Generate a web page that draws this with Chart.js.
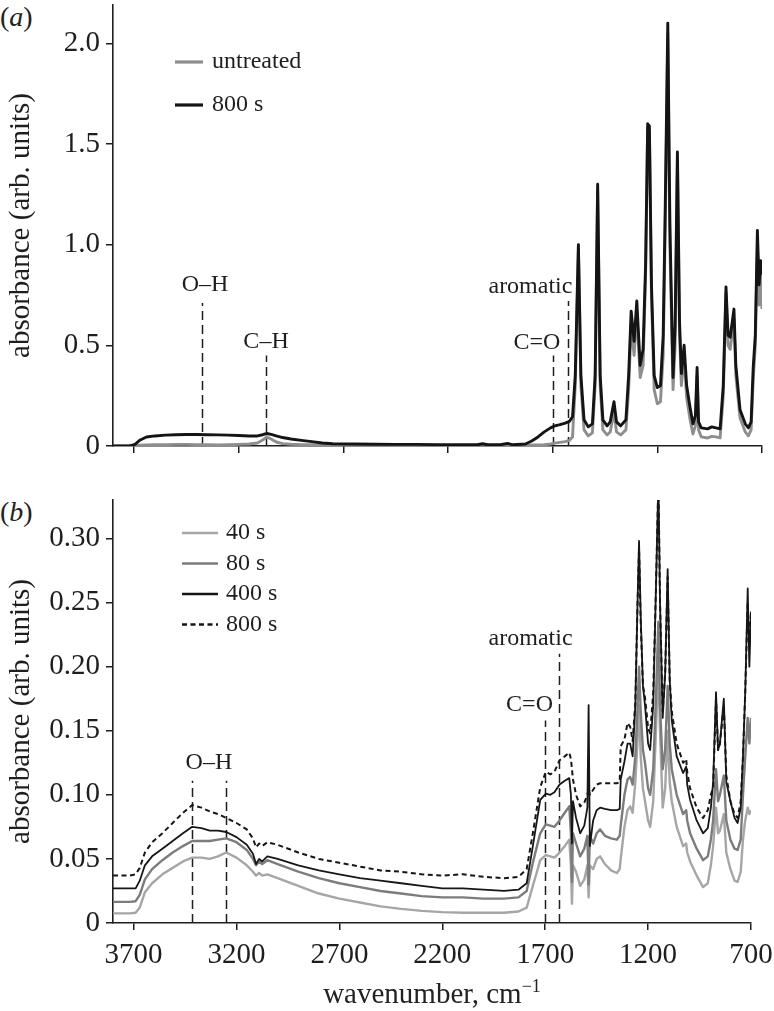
<!DOCTYPE html>
<html lang="en">
<head>
    <meta charset="UTF-8">
    <title>Absorbance spectra</title>
    <style>
        body { margin: 0; background: #fff; width: 774px; height: 1011px; position: relative; overflow: hidden;
               font-family: "Liberation Serif", "Times New Roman", serif; color: #222; }
        canvas { position: absolute; left: 0; }
        #chartA { top: 0; }
        #chartB { top: 480px; }
        .tag { position: absolute; left: 0; font-size: 28px; line-height: 30px; }
        #xTitle { position: absolute; left: 113px; width: 638px; top: 976px; text-align: center;
                  font-size: 29px; line-height: 34px; }
        #xTitle sup { font-size: 18px; vertical-align: 11px; line-height: 0; }
    </style>
</head>
<body>
    <div class="tag" style="top:2px">(<i>a</i>)</div>
    <div class="tag" style="top:497px">(<i>b</i>)</div>
    <canvas id="chartA" width="774" height="475"></canvas>
    <canvas id="chartB" width="774" height="500"></canvas>
    <div id="xTitle">wavenumber, cm<sup>−1</sup></div>

    <script src="https://cdn.jsdelivr.net/npm/chart.js"></script>
    <script>
        // ---- panel (a): untreated vs 800 s ----
        const wnA = [3800, 3720, 3695, 3670, 3640, 3600, 3550, 3500, 3450, 3400,
                     3350, 3300, 3250, 3200, 3150, 3110, 3085, 3065, 3045, 3020,
                     2990, 2950, 2900, 2850, 2800, 2750, 2650, 2550, 2450, 2350,
                     2250, 2150, 2060, 2035, 2010, 1950, 1915, 1890, 1830, 1800,
                     1770, 1740, 1710, 1690, 1665, 1640, 1620, 1605, 1592, 1577,
                     1565, 1550, 1530, 1510, 1497, 1485, 1473, 1460, 1440, 1425,
                     1407, 1395, 1375, 1350, 1337, 1325, 1311, 1298, 1282, 1268,
                     1256, 1246, 1238, 1228, 1215, 1200, 1185, 1172, 1162, 1150,
                     1140, 1125, 1115, 1104, 1094, 1085, 1072, 1060, 1045, 1030,
                     1018, 1010, 1003, 990, 960, 940, 920, 900, 885, 872,
                     862, 852, 834, 825, 805, 780, 765, 752, 742, 732,
                     722, 714, 706, 700];
        const absUntreated = [0, 0, 0.002, 0.004, 0.005, 0.006, 0.007, 0.008, 0.008, 0.007,
                     0.006, 0.005, 0.006, 0.008, 0.010, 0.015, 0.030, 0.045, 0.035, 0.020,
                     0.012, 0.009, 0.007, 0.006, 0.005, 0.004, 0.004, 0.003, 0.003, 0.003,
                     0.003, 0.003, 0.003, 0.004, 0.003, 0.003, 0.004, 0.003, 0.004, 0.005,
                     0.005, 0.006, 0.010, 0.014, 0.018, 0.022, 0.028, 0.045, 0.30, 0.97,
                     0.30, 0.08, 0.05, 0.065, 0.30, 1.27, 0.30, 0.08, 0.055, 0.07,
                     0.17, 0.07, 0.055, 0.08, 0.28, 0.60, 0.45, 0.66, 0.34, 0.40,
                     0.85, 1.58, 1.57, 0.75, 0.28, 0.21, 0.22, 0.45, 1.10, 2.05,
                     1.00, 0.28, 0.50, 1.42, 0.55, 0.30, 0.45, 0.24, 0.14, 0.06,
                     0.10, 0.35, 0.08, 0.045, 0.040, 0.048, 0.045, 0.040, 0.25, 0.76,
                     0.50, 0.48, 0.63, 0.35, 0.14, 0.07, 0.05, 0.08, 0.33, 0.50,
                     1.00, 0.70, 0.86, 0.68];
        const abs800A = [0, 0, 0.008, 0.030, 0.045, 0.050, 0.054, 0.056, 0.057, 0.057,
                     0.056, 0.055, 0.054, 0.052, 0.050, 0.050, 0.056, 0.062, 0.058, 0.050,
                     0.042, 0.035, 0.028, 0.022, 0.015, 0.011, 0.010, 0.009, 0.008, 0.008,
                     0.007, 0.007, 0.006, 0.011, 0.006, 0.006, 0.013, 0.006, 0.010, 0.025,
                     0.045, 0.070, 0.090, 0.100, 0.106, 0.114, 0.122, 0.145, 0.35, 1.00,
                     0.35, 0.13, 0.095, 0.11, 0.35, 1.30, 0.35, 0.13, 0.10, 0.12,
                     0.22, 0.12, 0.10, 0.13, 0.35, 0.67, 0.52, 0.72, 0.40, 0.48,
                     0.90, 1.60, 1.59, 0.80, 0.35, 0.29, 0.30, 0.55, 1.20, 2.10,
                     1.10, 0.34, 0.60, 1.46, 0.62, 0.36, 0.50, 0.30, 0.20, 0.11,
                     0.15, 0.39, 0.12, 0.09, 0.085, 0.095, 0.090, 0.085, 0.30, 0.79,
                     0.55, 0.54, 0.68, 0.40, 0.18, 0.11, 0.09, 0.12, 0.39, 0.55,
                     1.07, 0.80, 0.92, 0.85];

        // ---- panel (b): 40 s, 80 s, 400 s, 800 s ----
        const wnB = [3800, 3720, 3690, 3670, 3645, 3610, 3560, 3510, 3460, 3415,
                     3370, 3330, 3290, 3250, 3200, 3150, 3120, 3105, 3090, 3075,
                     3050, 3000, 2900, 2800, 2700, 2600, 2500, 2400, 2300, 2200,
                     2100, 2000, 1900, 1830, 1790, 1760, 1740, 1724, 1697, 1675,
                     1655, 1630, 1605, 1583, 1575, 1570, 1565, 1550, 1530, 1510,
                     1495, 1489, 1483, 1467, 1450, 1433, 1410, 1380, 1352, 1338,
                     1333, 1315, 1300, 1287, 1275, 1262, 1252, 1244, 1236, 1225,
                     1215, 1200, 1190, 1175, 1162, 1150, 1142, 1129, 1117, 1105,
                     1095, 1085, 1061, 1030, 1015, 1010, 996, 964, 933, 910,
                     895, 884, 870, 860, 851, 832, 820, 800, 780, 765,
                     750, 739, 728, 716, 708, 700];
        const abs40 = [0.0075, 0.0075, 0.008, 0.012, 0.024, 0.031, 0.038, 0.043, 0.048, 0.051,
                     0.051, 0.050, 0.052, 0.055, 0.051, 0.045, 0.040, 0.037, 0.039, 0.037,
                     0.038, 0.035, 0.029, 0.023, 0.019, 0.016, 0.013, 0.011, 0.0095, 0.0085,
                     0.008, 0.008, 0.008, 0.009, 0.012, 0.029, 0.040, 0.049, 0.053, 0.052,
                     0.051, 0.055, 0.060, 0.065, 0.045, 0.015, 0.045, 0.040, 0.029, 0.034,
                     0.045, 0.020, 0.045, 0.042, 0.050, 0.052, 0.046, 0.041, 0.039, 0.042,
                     0.050, 0.075, 0.088, 0.091, 0.086, 0.110, 0.140, 0.170, 0.130, 0.105,
                     0.095, 0.080, 0.075, 0.095, 0.150, 0.200, 0.150, 0.090, 0.105, 0.150,
                     0.110, 0.095, 0.075, 0.060, 0.062, 0.055, 0.048, 0.037, 0.028, 0.031,
                     0.045, 0.060, 0.090, 0.070, 0.072, 0.085, 0.055, 0.042, 0.033, 0.032,
                     0.040, 0.065, 0.080, 0.090, 0.085, 0.088];
        const abs80 = [0.0165, 0.0165, 0.017, 0.022, 0.034, 0.042, 0.049, 0.055, 0.060, 0.064,
                     0.064, 0.064, 0.065, 0.066, 0.063, 0.057, 0.050, 0.045, 0.048, 0.046,
                     0.049, 0.046, 0.040, 0.035, 0.031, 0.028, 0.025, 0.023, 0.021, 0.020,
                     0.020, 0.019, 0.019, 0.020, 0.025, 0.047, 0.060, 0.070, 0.077, 0.076,
                     0.075, 0.080, 0.086, 0.091, 0.070, 0.032, 0.070, 0.062, 0.052, 0.058,
                     0.068, 0.030, 0.068, 0.062, 0.070, 0.073, 0.068, 0.066, 0.065, 0.068,
                     0.076, 0.100, 0.112, 0.114, 0.108, 0.130, 0.165, 0.200, 0.165, 0.135,
                     0.125, 0.105, 0.100, 0.120, 0.175, 0.235, 0.170, 0.120, 0.135, 0.185,
                     0.140, 0.120, 0.100, 0.085, 0.088, 0.080, 0.070, 0.058, 0.049, 0.052,
                     0.065, 0.080, 0.120, 0.095, 0.100, 0.115, 0.080, 0.065, 0.058, 0.057,
                     0.065, 0.100, 0.130, 0.160, 0.140, 0.160];
        const abs400 = [0.027, 0.027, 0.027, 0.033, 0.045, 0.052, 0.058, 0.064, 0.070, 0.075,
                     0.074, 0.072, 0.072, 0.071, 0.067, 0.061, 0.054, 0.046, 0.050, 0.048,
                     0.052, 0.050, 0.045, 0.041, 0.038, 0.035, 0.033, 0.031, 0.029, 0.027,
                     0.027, 0.026, 0.025, 0.026, 0.031, 0.060, 0.080, 0.096, 0.101, 0.100,
                     0.102, 0.108, 0.111, 0.113, 0.100, 0.062, 0.095, 0.082, 0.070, 0.076,
                     0.090, 0.170, 0.060, 0.080, 0.088, 0.090, 0.089, 0.088, 0.088, 0.089,
                     0.112, 0.126, 0.140, 0.140, 0.130, 0.170, 0.245, 0.298, 0.240, 0.185,
                     0.170, 0.140, 0.135, 0.170, 0.260, 0.345, 0.250, 0.160, 0.195, 0.276,
                     0.190, 0.158, 0.130, 0.117, 0.122, 0.108, 0.096, 0.080, 0.070, 0.074,
                     0.090, 0.110, 0.180, 0.135, 0.140, 0.175, 0.110, 0.095, 0.082, 0.078,
                     0.090, 0.130, 0.180, 0.261, 0.200, 0.243];
        const abs800B = [0.037, 0.037, 0.038, 0.043, 0.055, 0.063, 0.070, 0.078, 0.086, 0.092,
                     0.090, 0.087, 0.085, 0.082, 0.078, 0.073, 0.066, 0.059, 0.062, 0.060,
                     0.063, 0.061, 0.055, 0.050, 0.047, 0.044, 0.041, 0.040, 0.038, 0.037,
                     0.038, 0.036, 0.035, 0.036, 0.042, 0.070, 0.090, 0.106, 0.118, 0.116,
                     0.118, 0.127, 0.130, 0.133, 0.128, 0.120, 0.112, 0.100, 0.091, 0.094,
                     0.100, 0.105, 0.100, 0.104, 0.108, 0.109, 0.109, 0.109, 0.109, 0.110,
                     0.138, 0.143, 0.156, 0.153, 0.142, 0.172, 0.245, 0.292, 0.235, 0.185,
                     0.176, 0.152, 0.148, 0.180, 0.260, 0.345, 0.250, 0.165, 0.195, 0.270,
                     0.190, 0.165, 0.140, 0.125, 0.128, 0.118, 0.105, 0.090, 0.082, 0.088,
                     0.100, 0.106, 0.175, 0.135, 0.140, 0.170, 0.115, 0.095, 0.085, 0.082,
                     0.095, 0.130, 0.180, 0.250, 0.220, 0.240];

        // axis ticks
        const xTicks = [3700, 3200, 2700, 2200, 1700, 1200, 700];
        const xTickLabels = ['3700', '3200', '2700', '2200', '1700', '1200', '700'];
        const yTicksA = [0, 0.5, 1, 1.5, 2];
        const yTickLabelsA = ['0', '0.5', '1.0', '1.5', '2.0'];
        const yTicksB = [0, 0.05, 0.1, 0.15, 0.2, 0.25, 0.3];
        const yTickLabelsB = ['0', '0.05', '0.10', '0.15', '0.20', '0.25', '0.30'];

        // band markers: dashed line wavenumbers, line top, label and label anchor (wn, absorbance)
        const bandsA = [
            { label: 'O–H', lines: [3375], top: 0.71, tx: 3360, ty: 0.80 },
            { label: 'C–H', lines: [3069], top: 0.45, tx: 3069, ty: 0.517 },
            { label: 'C=O', lines: [1700], top: 0.45, tx: 1775, ty: 0.512 },
            { label: 'aromatic', lines: [1628], top: 0.72, tx: 1806, ty: 0.79 }
        ];
        const bandsB = [
            { label: 'O–H', lines: [3415, 3249], top: 0.111, tx: 3334, ty: 0.125 },
            { label: 'C=O', lines: [1700], top: 0.158, tx: 1776, ty: 0.170 },
            { label: 'aromatic', lines: [1631], top: 0.210, tx: 1771, ty: 0.222 }
        ];

        const serif = '"Liberation Serif", "Times New Roman", serif';
        const ink = '#1e1e1e';
        Chart.defaults.font.family = serif;
        Chart.defaults.color = ink;

        function toPoints(xs, ys) {
            return xs.map((w, i) => ({ x: w, y: ys[i] }));
        }

        // draws the dashed band markers, their labels and the in-plot legend
        function overlay(bands, legend) {
            return {
                id: 'overlay',
                beforeDatasetsDraw(chart) {
                    const { ctx, scales: { x, y } } = chart;
                    ctx.save();
                    ctx.strokeStyle = ink;
                    ctx.lineWidth = 1.5;
                    ctx.setLineDash([9, 5]);
                    bands.forEach(b => b.lines.forEach(w => {
                        const px = Math.round(x.getPixelForValue(w)) + 0.5;
                        ctx.beginPath();
                        ctx.moveTo(px, y.getPixelForValue(0));
                        ctx.lineTo(px, y.getPixelForValue(b.top));
                        ctx.stroke();
                    }));
                    ctx.restore();
                },
                afterDatasetsDraw(chart) {
                    const { ctx, scales: { x, y } } = chart;
                    ctx.save();
                    ctx.fillStyle = ink;
                    ctx.font = '24px ' + serif;
                    ctx.textAlign = 'center';
                    ctx.textBaseline = 'middle';
                    bands.forEach(b => ctx.fillText(b.label, x.getPixelForValue(b.tx), y.getPixelForValue(b.ty)));

                    ctx.textAlign = 'left';
                    legend.order.forEach((di, row) => {
                        const ds = chart.data.datasets[di];
                        const ly = legend.top + row * legend.step;
                        ctx.strokeStyle = ds.borderColor;
                        ctx.lineWidth = legend.width;
                        ctx.setLineDash(ds.borderDash || []);
                        ctx.beginPath();
                        ctx.moveTo(legend.x, ly);
                        ctx.lineTo(legend.x + legend.len, ly);
                        ctx.stroke();
                        ctx.fillText(ds.label, legend.x + legend.len + legend.gap, ly);
                    });
                    ctx.restore();
                }
            };
        }

        function panelOptions(p) {
            return {
                responsive: false,
                animation: false,
                devicePixelRatio: 1,
                layout: { padding: { top: p.padTop, right: p.padRight, left: 0, bottom: 0 } },
                elements: { point: { radius: 0 }, line: { tension: 0, borderJoinStyle: 'round' } },
                plugins: { legend: { display: false }, tooltip: { enabled: false } },
                scales: {
                    x: {
                        type: 'linear', reverse: true, min: 700, max: 3800,
                        afterBuildTicks: s => { s.ticks = xTicks.map(v => ({ value: v })); },
                        afterFit: s => { s.height = p.xHeight; s.paddingLeft = 0; s.paddingRight = 0; },
                        grid: { drawOnChartArea: false, drawTicks: true, tickLength: 7, color: ink, lineWidth: 1.5 },
                        border: { display: true, color: ink, width: 1.6 },
                        ticks: {
                            display: p.xLabels, autoSkip: false, maxRotation: 0, padding: 8,
                            font: { size: 29 }, color: ink,
                            callback: v => xTickLabels[xTicks.indexOf(v)]
                        }
                    },
                    y: {
                        min: 0, max: p.yMax,
                        afterBuildTicks: s => { s.ticks = p.yTicks.map(v => ({ value: v })); },
                        afterFit: s => { s.width = 113; s.paddingTop = 0; s.paddingBottom = 0; },
                        grid: { drawOnChartArea: false, drawTicks: true, tickLength: 7, color: ink, lineWidth: 1.5 },
                        border: { display: true, color: ink, width: 1.6 },
                        ticks: {
                            padding: 6, font: { size: 29 }, color: ink,
                            callback: (v, i) => p.yLabels[i]
                        },
                        title: {
                            display: true, text: 'absorbance (arb. units)', color: ink,
                            font: { size: 29 }, padding: { top: 4, bottom: 0 }
                        }
                    }
                }
            };
        }

        new Chart(document.getElementById('chartA'), {
            type: 'line',
            data: {
                datasets: [
                    { label: 'untreated', data: toPoints(wnA, absUntreated), borderColor: '#8e8e8e', borderWidth: 2.9, order: 1 },
                    { label: '800 s', data: toPoints(wnA, abs800A), borderColor: '#141414', borderWidth: 2.9, order: 0 }
                ]
            },
            options: panelOptions({ padTop: 5, padRight: 12, xHeight: 29, xLabels: false,
                                    yMax: 2.19, yTicks: yTicksA, yLabels: yTickLabelsA }),
            plugins: [overlay(bandsA, { order: [0, 1], x: 175, len: 28, gap: 9, top: 62, step: 43, width: 3.2 })]
        });

        new Chart(document.getElementById('chartB'), {
            type: 'line',
            data: {
                datasets: [
                    { label: '40 s', data: toPoints(wnB, abs40), borderColor: '#a6a6a6', borderWidth: 2.4, order: 3 },
                    { label: '80 s', data: toPoints(wnB, abs80), borderColor: '#7c7c7c', borderWidth: 2.4, order: 2 },
                    { label: '400 s', data: toPoints(wnB, abs400), borderColor: '#161616', borderWidth: 1.8, order: 1 },
                    { label: '800 s', data: toPoints(wnB, abs800B), borderColor: '#161616', borderWidth: 2,
                      borderDash: [5, 3.5], order: 0 }
                ]
            },
            options: panelOptions({ padTop: 20, padRight: 23, xHeight: 57, xLabels: true,
                                    yMax: 0.33, yTicks: yTicksB, yLabels: yTickLabelsB }),
            plugins: [overlay(bandsB, { order: [0, 1, 2, 3], x: 182, len: 36, gap: 8, top: 53, step: 30.5, width: 2.4 })]
        });
    </script>
</body>
</html>
